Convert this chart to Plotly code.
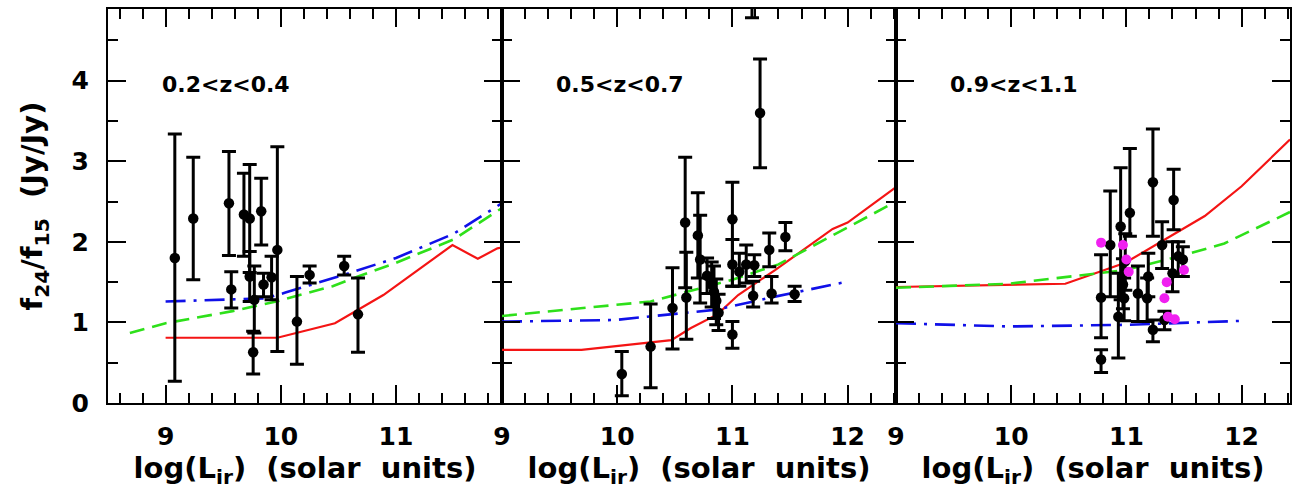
import plotly.graph_objects as go
from plotly.subplots import make_subplots

# ---------------- Panel 1 : 0.2<z<0.4 ----------------
p1_x = [9.08, 9.24, 9.55, 9.57, 9.68, 9.73, 9.73, 9.76, 9.77, 9.83, 9.85, 9.92, 9.97, 10.14, 10.25, 10.55, 10.67]
p1_y = [1.80, 2.29, 2.48, 1.41, 2.34, 2.29, 1.57, 0.63, 1.28, 2.38, 1.47, 1.56, 1.90, 1.01, 1.59, 1.70, 1.10]
p1_hi = [3.34, 3.05, 3.12, 1.63, 2.85, 2.96, 1.88, 0.89, 1.70, 2.79, 1.61, 1.82, 3.18, 1.57, 1.70, 1.82, 1.55]
p1_lo = [0.27, 1.53, 1.83, 1.18, 1.82, 1.62, 1.26, 0.36, 0.87, 1.96, 1.32, 1.28, 0.64, 0.48, 1.49, 1.59, 0.63]

p1_red_x = [9.0, 9.97, 10.47, 10.89, 11.49, 11.71, 11.88, 11.92]
p1_red_y = [0.81, 0.81, 0.99, 1.34, 1.96, 1.79, 1.92, 1.93]
p1_green_x = [8.69, 9.0, 9.58, 9.96, 10.45, 10.67, 11.0, 11.5, 11.92]
p1_green_y = [0.87, 0.99, 1.14, 1.26, 1.45, 1.57, 1.74, 2.03, 2.42]
p1_blue_x = [9.0, 9.87, 10.04, 10.3, 10.59, 11.0, 11.5, 11.92]
p1_blue_y = [1.26, 1.30, 1.37, 1.48, 1.61, 1.80, 2.10, 2.48]

# ---------------- Panel 2 : 0.5<z<0.7 ----------------
p2_x = [10.04, 10.29, 10.48, 10.59, 10.60, 10.70, 10.72, 10.78, 10.82, 10.84, 10.86, 10.88,
        11.00, 11.00, 11.00, 11.06, 11.12, 11.19, 11.18, 11.24, 11.17, 11.32, 11.34, 11.46, 11.54]
p2_y = [0.36, 0.70, 1.18, 2.24, 1.31, 2.08, 1.78, 1.58, 1.47, 1.38, 1.27, 1.12,
        2.28, 1.72, 0.85, 1.63, 1.72, 1.71, 1.33, 3.60, 5.20, 1.90, 1.36, 2.06, 1.35]
p2_hi = [0.64, 1.23, 1.68, 3.05, 1.87, 2.61, 2.33, 1.80, 1.75, 1.70, 1.54, 1.35,
         2.74, 2.03, 1.01, 1.86, 1.96, 1.84, 1.51, 4.27, 5.60, 2.11, 1.57, 2.24, 1.45]
p2_lo = [0.09, 0.19, 0.67, 1.43, 0.79, 1.55, 1.24, 1.36, 1.19, 1.05, 0.97, 0.90,
         1.45, 1.45, 0.68, 1.45, 1.49, 1.57, 1.19, 2.92, 4.78, 1.69, 1.24, 1.89, 1.26]

p2_red_x = [9.0, 9.69, 10.47, 10.64, 10.87, 11.05, 11.37, 11.68, 11.87, 12.0, 12.42]
p2_red_y = [0.66, 0.66, 0.78, 0.93, 1.10, 1.34, 1.65, 1.96, 2.16, 2.24, 2.68]
p2_green_x = [9.0, 10.29, 11.0, 11.40, 11.83, 12.42]
p2_green_y = [1.08, 1.26, 1.53, 1.72, 2.05, 2.50]
p2_blue_x = [9.0, 9.98, 10.87, 11.37, 12.01]
p2_blue_y = [1.01, 1.03, 1.16, 1.32, 1.51]

# ---------------- Panel 3 : 0.9<z<1.1 ----------------
p3_x = [10.78, 10.78, 10.86, 10.93, 10.95, 10.97, 10.98, 10.99, 11.03, 11.10, 11.19, 11.18,
        11.23, 11.23, 11.31, 11.33, 11.41, 11.40, 11.45, 11.49]
p3_y = [1.31, 0.54, 1.96, 1.07, 2.19, 1.47, 1.30, 1.76, 2.36, 1.36, 1.57, 1.30,
        2.74, 0.91, 1.96, 1.03, 2.52, 1.61, 1.82, 1.78]
p3_hi = [1.84, 0.66, 2.63, 1.61, 2.92, 1.79, 1.55, 2.10, 3.16, 1.70, 1.86, 1.55,
         3.40, 1.03, 2.25, 1.14, 2.90, 2.00, 2.00, 1.94]
p3_lo = [0.81, 0.38, 1.32, 0.56, 1.28, 1.17, 1.02, 1.40, 2.07, 1.01, 1.32, 1.01,
         2.07, 0.76, 1.67, 0.91, 2.15, 1.38, 1.57, 1.57]
p3_mag_x = [10.78, 10.97, 11.00, 11.02, 11.33, 11.35, 11.36, 11.42, 11.50]
p3_mag_y = [1.99, 1.96, 1.78, 1.63, 1.30, 1.50, 1.07, 1.04, 1.65]

p3_red_x = [9.0, 10.47, 10.99, 11.33, 11.68, 12.0, 12.42]
p3_red_y = [1.44, 1.48, 1.74, 2.03, 2.32, 2.69, 3.27]
p3_green_x = [9.0, 9.98, 10.99, 11.51, 11.85, 12.42]
p3_green_y = [1.43, 1.48, 1.65, 1.84, 1.98, 2.37]
p3_blue_x = [9.0, 9.98, 10.99, 12.01]
p3_blue_y = [0.99, 0.95, 0.97, 1.02]

panel_labels = ["0.2&lt;z&lt;0.4", "0.5&lt;z&lt;0.7", "0.9&lt;z&lt;1.1"]
x_ranges = [[8.5, 11.92], [9.0, 12.42], [9.0, 12.42]]
y_range = [0, 4.89]

RED = "#f41414"
GREEN = "#2ee01a"
BLUE = "#1010e8"
MAGENTA = "#f020f0"
FONT = "DejaVu Sans"

panels = [
    (p1_x, p1_y, p1_hi, p1_lo, p1_red_x, p1_red_y, p1_green_x, p1_green_y, p1_blue_x, p1_blue_y),
    (p2_x, p2_y, p2_hi, p2_lo, p2_red_x, p2_red_y, p2_green_x, p2_green_y, p2_blue_x, p2_blue_y),
    (p3_x, p3_y, p3_hi, p3_lo, p3_red_x, p3_red_y, p3_green_x, p3_green_y, p3_blue_x, p3_blue_y),
]

fig = make_subplots(rows=1, cols=3, horizontal_spacing=0)

for i, (px, py, phi, plo, rx, ry, gx, gy, bx, by) in enumerate(panels, start=1):
    fig.add_trace(go.Scatter(x=rx, y=ry, mode="lines",
                             line=dict(color=RED, width=2.2)), row=1, col=i)
    fig.add_trace(go.Scatter(x=gx, y=gy, mode="lines",
                             line=dict(color=GREEN, width=2.6, dash="15px,8px")), row=1, col=i)
    fig.add_trace(go.Scatter(x=bx, y=by, mode="lines",
                             line=dict(color=BLUE, width=2.6, dash="20px,8px,3px,8px")), row=1, col=i)
    fig.add_trace(go.Scatter(
        x=px, y=py, mode="markers",
        marker=dict(color="black", size=10.5),
        error_y=dict(type="data", symmetric=False,
                     array=[h - v for h, v in zip(phi, py)],
                     arrayminus=[v - l for v, l in zip(py, plo)],
                     color="black", thickness=3, width=7),
    ), row=1, col=i)

fig.add_trace(go.Scatter(x=p3_mag_x, y=p3_mag_y, mode="markers",
                         marker=dict(color=MAGENTA, size=10)), row=1, col=3)

axis_common = dict(
    showline=True, linecolor="black", linewidth=2, mirror="allticks",
    ticks="inside", ticklen=18, tickwidth=2, tickcolor="black",
    showgrid=False, zeroline=False,
)

tick_font = dict(family=FONT, size=25, color="black", weight="bold")
title_font = dict(family=FONT, size=29, color="black", weight="bold")

for i in range(1, 4):
    fig.update_xaxes(
        range=x_ranges[i - 1], tick0=0, dtick=1,
        tickfont=tick_font,
        ticklabelstandoff=10,
        minor=dict(ticks="inside", ticklen=10, tickwidth=2, tickcolor="black", dtick=0.2, tick0=0, showgrid=False),
        title=dict(text="log(L<sub>ir</sub>)  (solar  units)", font=title_font, standoff=2),
        **axis_common, row=1, col=i)
    fig.update_yaxes(
        range=y_range, tick0=0, dtick=1,
        showticklabels=(i == 1),
        tickfont=tick_font,
        ticklabelstandoff=12,
        minor=dict(ticks="inside", ticklen=10, tickwidth=2, tickcolor="black", dtick=0.5, tick0=0, showgrid=False),
        **axis_common, row=1, col=i)

fig.update_yaxes(
    title=dict(text="f<sub>24</sub>/f<sub>15</sub>  (Jy/Jy)", font=title_font, standoff=20),
    row=1, col=1)

label_x = [8.95, 9.45, 9.45]
for i, (txt, lx) in enumerate(zip(panel_labels, label_x), start=1):
    fig.add_annotation(
        x=lx, y=3.95, xref=f"x{'' if i == 1 else i}", yref=f"y{'' if i == 1 else i}",
        text=txt, showarrow=False, xanchor="left", yanchor="middle",
        font=dict(family=FONT, size=22, color="black", weight="bold"))

fig.update_layout(
    width=1299, height=497,
    margin=dict(l=108, r=7, t=9, b=94),
    plot_bgcolor="white", paper_bgcolor="white",
    showlegend=False,
)

fig.write_html("out.html")
